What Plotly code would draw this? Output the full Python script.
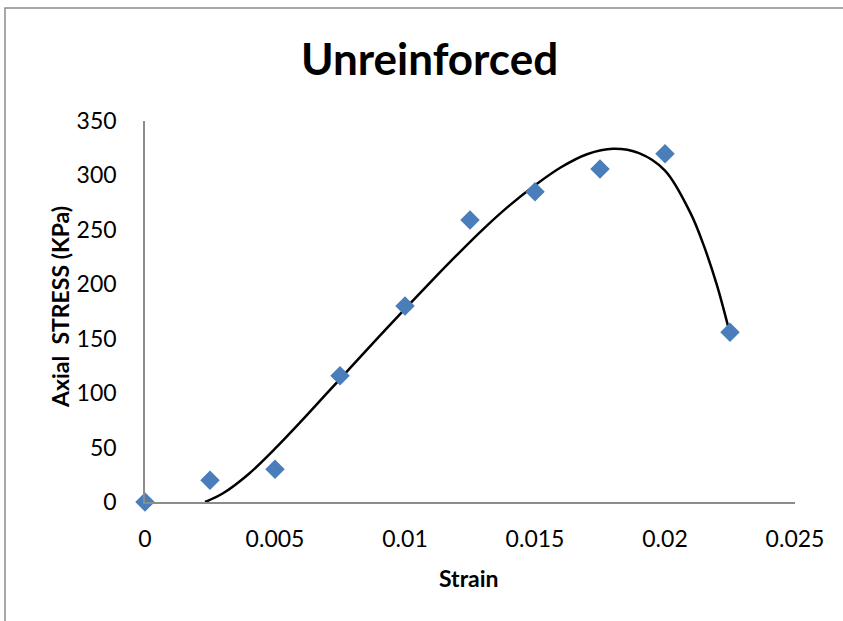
import plotly.graph_objects as go

# Measured data points
strain = [0, 0.0025, 0.005, 0.0075, 0.01, 0.0125, 0.015, 0.0175, 0.02, 0.0225]
stress = [0, 20, 30, 116, 180, 259, 285, 306, 320, 156]

# Trendline (clipped at 0)
trend_x = [0.00231, 0.003, 0.004, 0.005, 0.006, 0.007, 0.008, 0.009, 0.010, 0.011,
           0.012, 0.013, 0.014, 0.015, 0.016, 0.017, 0.018, 0.019, 0.020, 0.021,
           0.0215, 0.022, 0.02242]
trend_y = [0, 8, 26, 49, 74, 100, 126, 152, 177.5, 202.5,
           227, 250.5, 272, 291, 307.5, 319.5, 324.5, 320.5, 304.5, 264.5,
           235, 199, 162]

x_ticks = [0, 0.005, 0.01, 0.015, 0.02, 0.025]
x_tick_labels = ["0", "0.005", "0.01", "0.015", "0.02", "0.025"]
y_ticks = [0, 50, 100, 150, 200, 250, 300, 350]
y_tick_labels = [str(v) for v in y_ticks]

FONT = "Lato"

fig = go.Figure()
fig.add_trace(go.Scatter(x=trend_x, y=trend_y, mode="lines",
                         line=dict(color="black", width=2.5, shape="spline", smoothing=1.0),
                         hoverinfo="skip", showlegend=False))
fig.add_trace(go.Scatter(x=strain, y=stress, mode="markers",
                         marker=dict(symbol="diamond", size=15, color="#4A7EBB"),
                         cliponaxis=False, showlegend=False))

W, H = 843, 621
L, R, T, B = 145, 48, 121, 119
pw, ph = W - L - R, H - T - B

def px(xp):
    return (xp - L) / pw

def py(yp):
    return (H - B - yp) / ph

fig.update_layout(
    width=W, height=H,
    margin=dict(l=L, r=R, t=T, b=B, autoexpand=False),
    paper_bgcolor="white", plot_bgcolor="white",
    font=dict(family=FONT, color="black"),
    xaxis=dict(range=[0, 0.025], tickvals=x_ticks, ticktext=x_tick_labels,
               showgrid=False, zeroline=False, showline=True,
               linecolor="#8c8c8c", linewidth=1.5, ticks="",
               ticklabelstandoff=16, tickfont=dict(size=23, family=FONT)),
    yaxis=dict(range=[0, 350], tickvals=y_ticks, ticktext=y_tick_labels,
               showgrid=False, zeroline=False, showline=True,
               linecolor="#8c8c8c", linewidth=1.5, ticks="",
               ticklabelstandoff=22, tickfont=dict(size=23, family=FONT)),
    annotations=[
        dict(text="<b>Unreinforced</b>", x=px(429), y=py(58), xref="paper", yref="paper",
             showarrow=False, xanchor="center", yanchor="middle",
             font=dict(size=44, family=FONT)),
        dict(text="<b>Strain</b>", x=px(469), y=py(578), xref="paper", yref="paper",
             showarrow=False, xanchor="center", yanchor="middle",
             font=dict(size=23, family=FONT)),
        dict(text="<b>Axial\u00a0\u00a0STRESS (KPa)</b>", x=px(60), y=py(307),
             xref="paper", yref="paper", textangle=-90,
             showarrow=False, xanchor="center", yanchor="middle",
             font=dict(size=23, family=FONT)),
    ],
    shapes=[
        dict(type="rect", xref="paper", yref="paper",
             x0=px(5), x1=px(900), y0=py(700), y1=py(8),
             line=dict(color="#8c8c8c", width=1.5), layer="below"),
    ],
)

fig.write_html("out.html")
